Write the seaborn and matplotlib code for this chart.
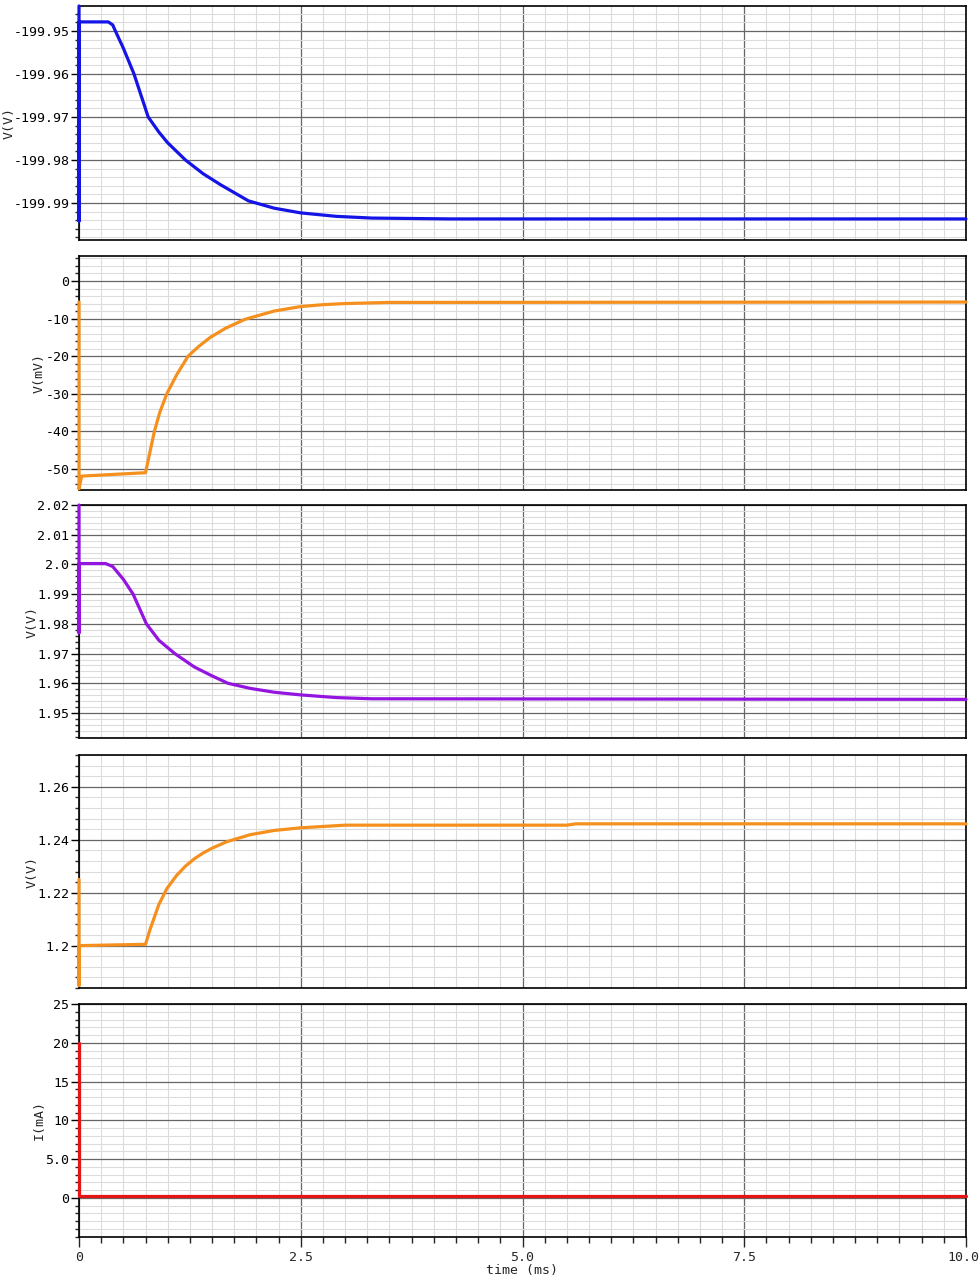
import numpy as np
import pandas as pd
import matplotlib
matplotlib.use("Agg")
import matplotlib.pyplot as plt
from matplotlib.ticker import MultipleLocator, FixedLocator, FixedFormatter
import matplotlib.transforms as mtransforms
import seaborn as sns

# ---- data (time in ms) ----
t1 = [0, 0, 0, 0.33, 0.38, 0.41, 0.5, 0.62, 0.7, 0.78, 0.9, 1.0, 1.2, 1.4, 1.6, 1.91,
      2.2, 2.5, 2.9, 3.3, 4.2, 10.0]
v1 = [-199.9442, -199.9942, -199.9479, -199.9479, -199.9486, -199.950, -199.954, -199.960,
      -199.965, -199.970, -199.9735, -199.976, -199.980, -199.9832, -199.9858, -199.9895,
      -199.9912, -199.9923, -199.9931, -199.9935, -199.9937, -199.9937]

t2 = [0, 0, 0.03, 0.75, 0.85, 0.91, 0.99, 1.1, 1.23, 1.35, 1.48, 1.65, 1.87, 2.2, 2.5,
      2.75, 3.0, 3.5, 10.0]
v2 = [-5.6, -55.3, -51.9, -51.0, -40.0, -35.0, -30.0, -25.0, -20.0, -17.4, -15.0, -12.6,
      -10.2, -8.0, -6.8, -6.3, -6.0, -5.7, -5.6]

t3 = [0, 0, 0, 0.3, 0.38, 0.5, 0.61, 0.76, 0.9, 1.08, 1.3, 1.5, 1.68, 1.93, 2.2,
      2.5, 2.9, 3.3, 10.0]
v3 = [2.02, 1.977, 2.0003, 2.0003, 1.9993, 1.995, 1.990, 1.980, 1.9745, 1.970, 1.9655,
      1.9625, 1.960, 1.9583, 1.957, 1.9561, 1.9552, 1.9548, 1.9546]

t4 = [0, 0, 0, 0.75, 0.8, 0.9, 0.99, 1.1, 1.2, 1.3, 1.4, 1.5, 1.67, 1.93, 2.2, 2.5,
      3.0, 5.5, 5.6, 10.0]
v4 = [1.225, 1.185, 1.2, 1.2005, 1.206, 1.2155, 1.2215, 1.2265, 1.2300, 1.2328, 1.2350,
      1.2368, 1.2393, 1.2419, 1.2435, 1.2445, 1.2455, 1.2455, 1.246, 1.246]

t5 = [0, 0, 0.02, 10.0]
v5 = [20.0, 0.2, 0.2, 0.2]

ylabels = ["V(V)", "V(mV)", "V(V)", "V(V)", "I(mA)"]
colors = ["#1414e6", "#f5901e", "#9414e0", "#f5901e", "#e61414"]
ylims = [(-199.9986, -199.9442), (-55.6, 6.65), (1.9416, 2.02), (1.184, 1.272), (-5.03, 25)]
yticks = [[-199.95, -199.96, -199.97, -199.98, -199.99],
          [0, -10, -20, -30, -40, -50],
          [2.02, 2.01, 2.0, 1.99, 1.98, 1.97, 1.96, 1.95],
          [1.2, 1.22, 1.24, 1.26],
          [0, 5, 10, 15, 20, 25]]
yticklabels = [["-199.95", "-199.96", "-199.97", "-199.98", "-199.99"],
               ["0", "-10", "-20", "-30", "-40", "-50"],
               ["2.02", "2.01", "2.0", "1.99", "1.98", "1.97", "1.96", "1.95"],
               ["1.2", "1.22", "1.24", "1.26"],
               ["0", "5.0", "10", "15", "20", "25"]]
yminor = [0.002, 2.0, 0.002, 0.004, 1.0]
xticks = [0, 2.5, 5.0, 7.5, 10.0]
xticklabels = ["0", "2.5", "5.0", "7.5", "10.0"]

series = [(t1, v1), (t2, v2), (t3, v3), (t4, v4), (t5, v5)]

sns.set_style("white")
plt.rcParams['font.family'] = ['DejaVu Sans Mono']

fig = plt.figure(figsize=(9.8, 12.79), dpi=100)
W, H = 980, 1279
tops = [6, 256, 505, 755, 1004]
bots = [240, 490, 738, 988, 1237]
left, right = 79, 966
label_x = [10, 40, 33, 33, 40]

for i in range(5):
    ax = fig.add_axes([left / W, 1 - bots[i] / H, (right - left) / W, (bots[i] - tops[i]) / H])
    t, v = series[i]
    df = pd.DataFrame({"t": t, "v": v})
    sns.lineplot(data=df, x="t", y="v", ax=ax, sort=False, estimator=None,
                 color=colors[i], linewidth=2.3, zorder=10)
    for ln in ax.get_lines():
        ln.set_clip_on(False)
        ln.set_solid_joinstyle("round")
    ax.set_xlim(0, 10)
    ax.set_ylim(*ylims[i])
    ax.xaxis.set_major_locator(FixedLocator(xticks))
    ax.xaxis.set_minor_locator(MultipleLocator(0.25))
    ax.yaxis.set_major_locator(FixedLocator(yticks[i]))
    ax.yaxis.set_major_formatter(FixedFormatter(yticklabels[i]))
    ax.yaxis.set_minor_locator(MultipleLocator(yminor[i]))
    ax.grid(which="major", color="#666666", linewidth=0.9, zorder=1)
    ax.grid(which="minor", color="#dcdcdc", linewidth=0.8, zorder=0)
    ax.set_axisbelow(True)
    for s in ax.spines.values():
        s.set_color("black")
        s.set_linewidth(1.2)
        s.set_zorder(2)
    ax.tick_params(axis="y", which="major", direction="out", length=6, width=1,
                   labelsize=9.5, pad=1, colors="black", left=True)
    ax.tick_params(axis="y", which="minor", direction="out", length=3, width=1, left=True)
    ax.set_ylabel(ylabels[i], fontsize=9.5)
    ax.yaxis.set_label_coords((label_x[i] + 6 - left) / (right - left), 0.5)
    if i < 4:
        ax.tick_params(axis="x", which="both", bottom=False, labelbottom=False)
        ax.set_xlabel("")
    else:
        ax.set_xticklabels(xticklabels)
        ax.tick_params(axis="x", which="major", direction="out", length=7, width=1,
                       labelsize=9.5, pad=3, bottom=True)
        ax.tick_params(axis="x", which="minor", direction="out", length=4, width=1, bottom=True)
        ax.set_xlabel("time (ms)", fontsize=9.5, labelpad=0)
        last = ax.get_xticklabels()[-1]
        last.set_transform(last.get_transform() +
                           mtransforms.ScaledTranslation(-3 / 100, 0, fig.dpi_scale_trans))

fig.savefig("out.png", dpi=100)
